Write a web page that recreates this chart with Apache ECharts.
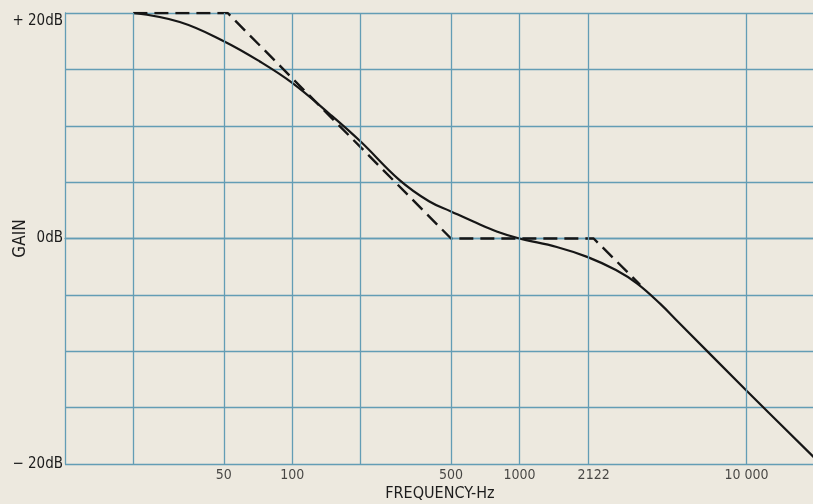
<!DOCTYPE html>
<html>
<head>
<meta charset="utf-8">
<script src="https://cdn.jsdelivr.net/npm/echarts@6/dist/echarts.min.js"></script>
<style>
  html, body { margin: 0; padding: 0; background: #ede9df; }
  #gain { width: 813px; height: 504px; }
</style>
</head>
<body>
<div id="gain"></div>
<script>
// solid response curve (Hz, dB)
var curveFreq = [20, 32, 50, 72, 100, 147, 200, 296, 400, 500, 627, 800, 1000, 1460, 2000, 2660, 3300, 4170, 5000, 10000, 20000];
var curveGain = [20, 19.2, 17.5, 15.7, 13.8, 11.0, 8.6, 5.2, 3.3, 2.4, 1.5, 0.6, 0, -0.75, -1.65, -2.8, -4.0, -5.8, -7.4, -13.5, -19.5];

// dashed straight-line approximation
var asymFreq = [20, 52, 500, 2122, 3400];
var asymGain = [20, 20, 0, 0, -4.1];

// vertical grid lines and the frequency labels under the plot
var gridFreq = [20, 50, 100, 200, 500, 1000, 2000, 10000];
var tickFreq = [50, 100, 500, 1000, 2122, 10000];
var tickText = ['50', '100', '500', '1000', '2122', '10 000'];

var gridColor = '#639db5';
var inkColor = '#161616';
var textColor = '#1c1c1c';
var font = '"DejaVu Sans Condensed", "Liberation Sans", sans-serif';

function pairs(xs, ys) {
    return xs.map(function (x, i) { return [x, ys[i]]; });
}

var myChart = echarts.init(document.getElementById('gain'));
var option = {
    backgroundColor: '#ede9df',
    animation: false,
    grid: {
        left: 65,
        top: 13,
        width: 750,
        height: 451,
        containLabel: false,
        outerBoundsMode: 'none'
    },
    xAxis: {
        type: 'log',
        logBase: 10,
        min: 10,
        max: 20000,
        name: 'FREQUENCY-Hz',
        nameLocation: 'middle',
        nameGap: 22,
        nameMoveOverlap: false,
        nameTextStyle: { color: textColor, fontFamily: font, fontSize: 16 },
        axisLine: { show: true, lineStyle: { color: gridColor, width: 1.3 } },
        axisTick: { show: false },
        axisLabel: { show: false },
        splitLine: { show: false }
    },
    yAxis: {
        type: 'value',
        min: -20,
        max: 20,
        interval: 5,
        name: 'GAIN',
        nameLocation: 'middle',
        nameRotate: 90,
        nameGap: 36,
        nameMoveOverlap: false,
        nameTextStyle: { color: textColor, fontFamily: font, fontSize: 17 },
        axisLine: { show: true, lineStyle: { color: gridColor, width: 1.3 } },
        axisTick: { show: false },
        splitLine: { show: true, lineStyle: { color: gridColor, width: 1.3 } },
        axisLabel: {
            margin: 2,
            color: textColor,
            fontFamily: font,
            fontSize: 15,
            formatter: function (v) {
                if (v === 20) return '{top|+ 20dB}';
                if (v === 0) return '0dB';
                if (v === -20) return '\u2212 20dB';
                return '';
            },
            rich: {
                top: { fontFamily: font, fontSize: 15, color: textColor, padding: [16, 0, 0, 0] }
            }
        }
    },
    series: [
        {
            // vertical grid lines
            type: 'line',
            data: [],
            silent: true,
            z: 1,
            markLine: {
                silent: true,
                symbol: ['none', 'none'],
                label: { show: false },
                lineStyle: { color: gridColor, width: 1.3, type: 'solid' },
                data: gridFreq.map(function (f) { return { xAxis: f }; })
            }
        },
        {
            name: 'asymptote',
            type: 'line',
            data: pairs(asymFreq, asymGain),
            showSymbol: false,
            z: 3,
            lineStyle: { color: inkColor, width: 2.4, type: [14, 7] }
        },
        {
            name: 'response',
            type: 'line',
            data: pairs(curveFreq, curveGain),
            showSymbol: false,
            smooth: 0.4,
            z: 4,
            lineStyle: { color: inkColor, width: 2.2 }
        },
        {
            // frequency labels
            type: 'scatter',
            data: tickFreq.map(function (f) { return [f, -20]; }),
            symbolSize: 0,
            silent: true,
            label: {
                show: true,
                position: 'bottom',
                distance: 4,
                color: textColor,
                fontFamily: font,
                fontSize: 14,
                formatter: function (p) { return tickText[p.dataIndex]; }
            }
        }
    ]
};
myChart.setOption(option);
</script>
</body>
</html>
